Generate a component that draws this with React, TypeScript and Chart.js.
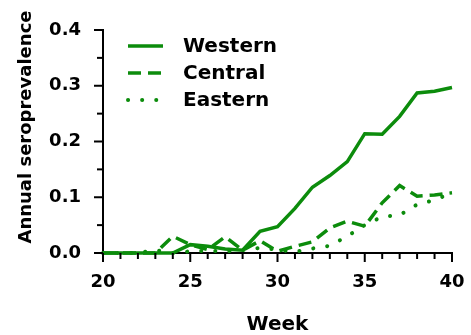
import React, { useEffect, useRef } from "react";
import { Chart, registerables } from "chart.js";

Chart.register(...registerables);

const weeks = [20, 21, 22, 23, 24, 25, 26, 27, 28, 29, 30, 31, 32, 33, 34, 35, 36, 37, 38, 39, 40];
const western = [0, 0, 0, 0, 0, 0.015, 0.012, 0.007, 0.005, 0.039, 0.047, 0.08, 0.118, 0.139, 0.164, 0.214, 0.213, 0.245, 0.287, 0.29, 0.297];
const central = [0, 0, 0, 0, 0.03, 0.015, 0.006, 0.029, 0.005, 0.022, 0.003, 0.012, 0.02, 0.045, 0.057, 0.048, 0.09, 0.121, 0.102, 0.104, 0.108];
const eastern = [0, 0, 0, 0.005, 0, 0.003, 0.004, 0.003, 0.005, 0.009, 0.006, 0.002, 0.008, 0.013, 0.03, 0.05, 0.065, 0.068, 0.087, 0.095, 0.108];
const seriesNames = ["Western", "Central", "Eastern"];
const xTickLabels = [20, 25, 30, 35, 40];
const yTickLabels = [0, 0.1, 0.2, 0.3, 0.4];
const yTitle = "Annual seroprevalence";
const xTitle = "Week";

const GREEN = "rgb(12,140,12)";
const FONT = "'DejaVu Sans', sans-serif";

const ticksPlugin = {
  id: "customTicks",
  afterDraw(chart: any) {
    const ctx = chart.ctx;
    const xs = chart.scales.x;
    const ys = chart.scales.y;
    ctx.save();
    ctx.strokeStyle = "#000";
    ctx.lineWidth = 2;
    ctx.lineCap = "butt";
    const left = chart.chartArea.left;
    const bottom = chart.chartArea.bottom;
    ys.ticks.forEach((t: any) => {
      const y = ys.getPixelForValue(t.value);
      const major = yTickLabels.some((v) => Math.abs(v - t.value) < 1e-6);
      const len = major ? 9 : 6;
      ctx.beginPath();
      ctx.moveTo(left, y);
      ctx.lineTo(left - len, y);
      ctx.stroke();
    });
    xs.ticks.forEach((t: any) => {
      const x = xs.getPixelForValue(t.value);
      const major = xTickLabels.includes(t.value);
      const len = major ? 9 : 6;
      ctx.beginPath();
      ctx.moveTo(x, bottom);
      ctx.lineTo(x, bottom + len);
      ctx.stroke();
    });
    // y title
    ctx.save();
    ctx.translate(26, 127);
    ctx.rotate(-Math.PI / 2);
    ctx.fillStyle = "#000";
    ctx.font = "bold 18px " + FONT;
    ctx.textAlign = "center";
    ctx.textBaseline = "middle";
    ctx.fillText(yTitle, 0, 0);
    ctx.restore();
    // legend
    const lx0 = left + 25;
    const lx1 = left + 60;
    const tx = left + 80;
    const top = chart.chartArea.top;
    const rowY = [top + 16, top + 43, top + 70];
    chart.data.datasets.forEach((ds: any, i: number) => {
      const y = rowY[i];
      ctx.strokeStyle = ds.borderColor;
      ctx.lineWidth = ds.borderWidth;
      ctx.lineCap = ds.borderCapStyle || "butt";
      ctx.setLineDash(ds.borderDash || []);
      ctx.beginPath();
      ctx.moveTo(lx0, y);
      ctx.lineTo(lx1, y);
      ctx.stroke();
      ctx.setLineDash([]);
      ctx.fillStyle = "#000";
      ctx.font = "bold 20px " + FONT;
      ctx.textBaseline = "middle";
      ctx.textAlign = "left";
      ctx.fillText(ds.label, tx, y + 1);
    });
    ctx.restore();
  },
};

export default function App() {
  const ref = useRef<HTMLCanvasElement>(null);
  useEffect(() => {
    document.body.style.margin = "0";
    const canvas = ref.current!;
    const mk = (vals: number[]) => weeks.map((w, i) => ({ x: w, y: vals[i] }));
    const chart = new Chart(canvas, {
      type: "line",
      data: {
        datasets: [
          { label: seriesNames[0], data: mk(western), borderColor: GREEN, borderWidth: 3.5, pointRadius: 0, tension: 0, clip: false as any },
          { label: seriesNames[1], data: mk(central), borderColor: GREEN, borderWidth: 3.5, borderDash: [13, 7], pointRadius: 0, tension: 0, clip: false as any },
          { label: seriesNames[2], data: mk(eastern), borderColor: GREEN, borderWidth: 4, borderDash: [0.1, 14], borderCapStyle: "round", pointRadius: 0, tension: 0, clip: false as any },
        ],
      },
      options: {
        animation: false,
        responsive: false,
        layout: { padding: { left: 8, right: 0, top: 30, bottom: -2 } },
        plugins: { legend: { display: false }, tooltip: { enabled: false } },
        scales: {
          x: {
            type: "linear",
            min: 20,
            max: 40,
            grid: { display: false, drawTicks: false },
            border: { display: true, color: "#000", width: 2 },
            afterFit: (s: any) => {
              s.height = 84;
              s.paddingLeft = 0;
              s.paddingRight = 19;
            },
            ticks: {
              stepSize: 1,
              autoSkip: false,
              maxRotation: 0,
              padding: 19,
              color: "#000",
              font: { family: FONT, size: 18, weight: "bold" },
              callback: (v: any) => (xTickLabels.includes(Number(v)) ? String(v) : ""),
            },
            title: {
              display: true,
              text: xTitle,
              color: "#000",
              font: { family: FONT, size: 20, weight: "bold" },
              padding: { top: 18, bottom: 0 },
            },
          },
          y: {
            min: 0,
            max: 0.4,
            grid: { display: false, drawTicks: false },
            border: { display: true, color: "#000", width: 2 },
            afterFit: (s: any) => {
              s.width = 95;
              s.paddingTop = 0;
              s.paddingBottom = 0;
            },
            ticks: {
              stepSize: 0.05,
              autoSkip: false,
              padding: 22,
              color: "#000",
              font: { family: FONT, size: 18, weight: "bold" },
              callback: (v: any) => {
                const n = Number(v);
                return yTickLabels.some((t) => Math.abs(t - n) < 1e-6) ? n.toFixed(1) : "";
              },
            },
            title: { display: false },
          },
        },
      },
      plugins: [ticksPlugin],
    });
    return () => chart.destroy();
  }, []);
  return <canvas ref={ref} width={471} height={335} style={{ display: "block", width: 471, height: 335 }} />;
}
